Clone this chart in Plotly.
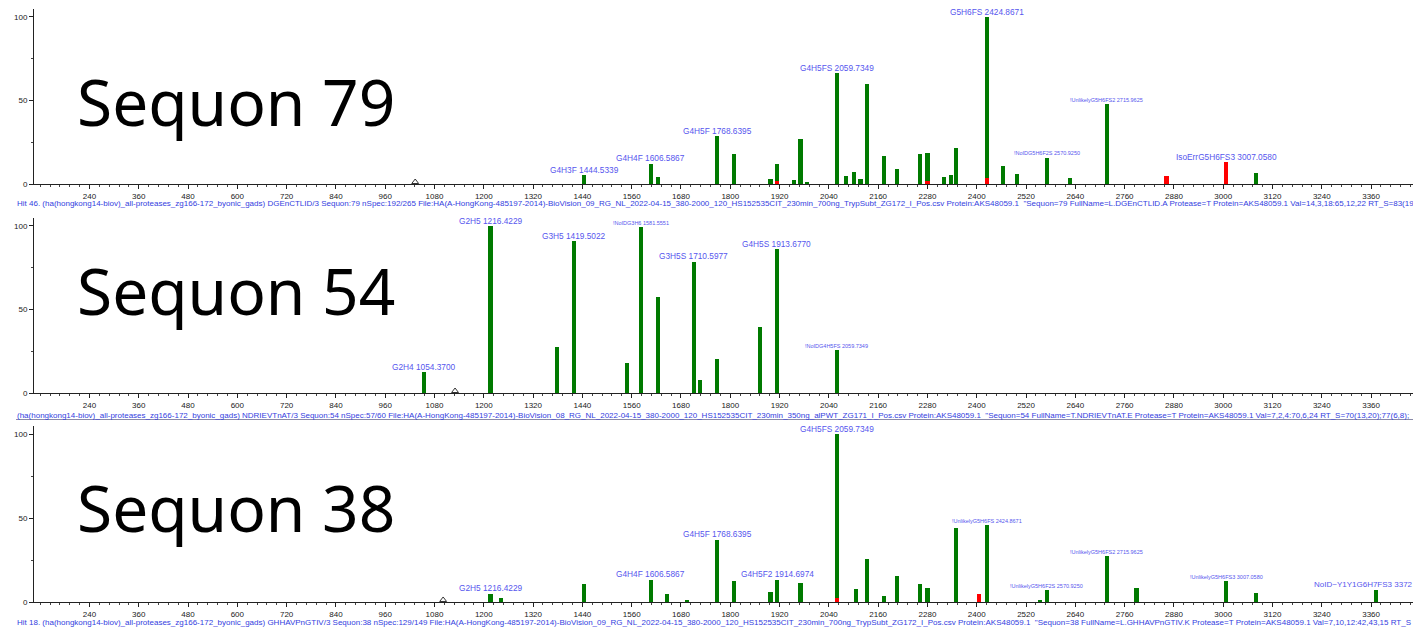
import plotly.graph_objects as go

W, H = 1413, 627

# ---------------- data ----------------
# Panel 1: Sequon 79
p1_mz = [1444.5, 1606.6, 1623, 1768.6, 1809, 1898, 1914, 1955, 1971, 1987,
         2059.7, 2081, 2101, 2117, 2133, 2174, 2205, 2261, 2280, 2320, 2337,
         2349, 2424.9, 2464, 2498, 2570.9, 2628, 2716, 2862, 3007.1, 3080]
p1_int = [5.4, 12.4, 4.4, 28.7, 18.4, 3.4, 12.4, 2.4, 27, 1.4,
          66.7, 5, 7.4, 3, 60.3, 16.8, 9, 18.4, 19, 4.4, 5.8,
          22, 100, 11.2, 6.2, 16, 4, 48, 5, 13.4, 6.8]
p1_red = [0, 0, 0, 0, 0, 0, 2.2, 0, 0, 0,
          0, 0, 0, 0, 0, 0, 0, 0, 2.2, 0, 0,
          0, 4, 0, 0, 0, 0, 0, 5, 13.4, 0]
p1_lab_mz = [1444.5339, 1606.5867, 1768.6395, 2059.7349, 2424.8671, 2570.9250, 2715.9625, 3007.0580]
p1_lab_text = ["G4H3F 1444.5339", "G4H4F 1606.5867", "G4H5F 1768.6395", "G4H5FS 2059.7349",
               "G5H6FS 2424.8671", "!NoIDG5H6F2S 2570.9250", "!UnlikelyG5H6FS2 2715.9625",
               "IsoErrG5H6FS3 3007.0580"]
p1_lab_small = [0, 0, 0, 0, 0, 1, 1, 0]
p1_prec = [1033]

# Panel 2: Sequon 54
p2_mz = [1054.4, 1216.4, 1378, 1419.5, 1548, 1581.6, 1623, 1710.6, 1727, 1768,
         1872, 1913.7, 2059.7]
p2_int = [12.8, 100, 27.7, 91, 18.4, 99.5, 57.7, 78.9, 8.2, 20.4,
          40, 86.4, 25.7]
p2_red = [0] * 13
p2_lab_mz = [1054.3700, 1216.4229, 1419.5022, 1581.5551, 1710.5977, 1913.6770, 2059.7349]
p2_lab_text = ["G2H4 1054.3700", "G2H5 1216.4229", "G3H5 1419.5022", "!NoIDG3H6 1581.5551",
               "G3H5S 1710.5977", "G4H5S 1913.6770", "!NoIDG4H5FS 2059.7349"]
p2_lab_small = [0, 0, 0, 1, 0, 0, 1]
p2_prec = [1130]

# Panel 3: Sequon 38
p3_mz = [1216.4, 1241, 1444.5, 1606.6, 1647, 1694, 1768.6, 1809, 1898, 1914.7,
         1971, 2059.7, 2105, 2133, 2174, 2205, 2261, 2280, 2349, 2406,
         2424.9, 2553, 2570.9, 2716, 2789, 3007.1, 3080, 3371]
p3_int = [5.2, 2.6, 11, 13.5, 4.8, 1.6, 37.3, 12.7, 6.2, 13.5,
          11.5, 100, 8, 26, 3.6, 16, 10.7, 8.5, 44, 5.2,
          45.8, 1.6, 7.1, 27.4, 8.5, 12.5, 5.5, 7.6]
p3_red = [0, 0, 0, 0, 0, 0, 0, 0, 0, 0,
          0, 2.5, 0, 0, 0, 0, 0, 0, 0, 5.2,
          0, 0, 0, 0, 0, 0, 0, 0]
p3_lab_mz = [1216.4229, 1606.5867, 1768.6395, 1914.6974, 2059.7349, 2424.8671, 2570.9250,
             2715.9625, 3007.0580]
p3_lab_text = ["G2H5 1216.4229", "G4H4F 1606.5867", "G4H5F 1768.6395", "G4H5F2 1914.6974",
               "G4H5FS 2059.7349", "!UnlikelyG5H6FS 2424.8671", "!UnlikelyG5H6F2S 2570.9250",
               "!UnlikelyG5H6FS2 2715.9625", "!UnlikelyG5H6FS3 3007.0580"]
p3_lab_small = [0, 0, 0, 0, 0, 1, 1, 1, 1]
p3_clip_mz = 3371
p3_clip_int = 7.6
p3_clip_text = "NoID~Y1Y1G6H7FS3 3372"
p3_prec = [1101]

x_tickvals = list(range(240, 3361, 120))
y_tickvals = [0, 50, 100]

sequon_titles = ["Sequon 79", "Sequon 54", "Sequon 38"]
info_lines = [
    'Hit 46. (ha(hongkong14-biov)_all-proteases_zg166-172_byonic_gads) DGEnCTLID/3 Sequon:79 nSpec:192/265 File:HA(A-HongKong-485197-2014)-BioVision_09_RG_NL_2022-04-15_380-2000_120_HS152535CIT_230min_700ng_TrypSubt_ZG172_I_Pos.csv Protein:AKS48059.1  "Sequon=79 FullName=L.DGEnCTLID.A Protease=T Protein=AKS48059.1 Val=14,3,18:65,12,22 RT_S=83(19',
    '(ha(hongkong14-biov)_all-proteases_zg166-172_byonic_gads) NDRIEVTnAT/3 Sequon:54 nSpec:57/60 File:HA(A-HongKong-485197-2014)-BioVision_08_RG_NL_2022-04-15_380-2000_120_HS152535CIT_230min_350ng_alPWT_ZG171_I_Pos.csv Protein:AKS48059.1  "Sequon=54 FullName=T.NDRIEVTnAT.E Protease=T Protein=AKS48059.1 Val=7,2,4:70,6,24 RT_S=70(13,20);77(6,8);',
    'Hit 18. (ha(hongkong14-biov)_all-proteases_zg166-172_byonic_gads) GHHAVPnGTIV/3 Sequon:38 nSpec:129/149 File:HA(A-HongKong-485197-2014)-BioVision_09_RG_NL_2022-04-15_380-2000_120_HS152535CIT_230min_700ng_TrypSubt_ZG172_I_Pos.csv Protein:AKS48059.1  "Sequon=38 FullName=L.GHHAVPnGTIV.K Protease=T Protein=AKS48059.1 Val=7,10,12:42,43,15 RT_S',
]

# ---------------- style / layout ----------------
GREEN = "#007a00"
RED = "#ff0000"
LABEL_BLUE = "#5656ee"
INFO_BLUE = "#3340e0"
FONT = "Liberation Sans, Arial, sans-serif"

X_RANGE = [105, 3462]
X_DOMAIN = [34 / W, 1.0]
Y_RANGE = [0, 105]
# pixel rows: (zero line, top of axis)
panel_px = [(184, 8.6), (393, 217.6), (602, 425.6)]
title_px = [101, 290, 507]
info_px = [204, 415, 622]

panels = [
    (p1_mz, p1_int, p1_red, p1_lab_mz, p1_lab_text, p1_lab_small, p1_prec),
    (p2_mz, p2_int, p2_red, p2_lab_mz, p2_lab_text, p2_lab_small, p2_prec),
    (p3_mz, p3_int, p3_red, p3_lab_mz, p3_lab_text, p3_lab_small, p3_prec),
]

fig = go.Figure()
annotations = []
layout = dict(
    width=W, height=H,
    margin=dict(l=0, r=0, t=0, b=0, pad=0, autoexpand=False),
    paper_bgcolor="white", plot_bgcolor="white",
    showlegend=False, barmode="overlay", bargap=0,
    font=dict(family=FONT, size=8, color="#222222"),
)

for i, (mz, inten, red, lmz, ltxt, lsmall, prec) in enumerate(panels):
    n = i + 1
    xa = "x" if n == 1 else f"x{n}"
    ya = "y" if n == 1 else f"y{n}"
    zero_px, top_px = panel_px[i]
    layout[f"xaxis{'' if n == 1 else n}"] = dict(
        domain=X_DOMAIN, range=X_RANGE, anchor=ya, automargin=False,
        tickvals=x_tickvals, ticks="outside", ticklen=4, tickcolor="#222222",
        showline=True, linecolor="#222222", linewidth=1, showgrid=False, zeroline=False,
        tickfont=dict(size=8, color="#222222", family=FONT),
        minor=dict(dtick=24, tick0=0, ticks="outside", ticklen=2, tickcolor="#444444", showgrid=False),
        fixedrange=True,
    )
    layout[f"yaxis{'' if n == 1 else n}"] = dict(
        domain=[1 - zero_px / H, 1 - top_px / H], range=Y_RANGE, anchor=xa, automargin=False,
        tickvals=y_tickvals, ticks="outside", ticklen=4, tickcolor="#222222",
        showline=True, linecolor="#222222", linewidth=1, showgrid=False, zeroline=False,
        tickfont=dict(size=8, color="#222222", family=FONT),
        minor=dict(tickvals=[25, 75], ticks="outside", ticklen=2, tickcolor="#444444", showgrid=False),
        fixedrange=True,
    )
    gx = [m for m, v, r in zip(mz, inten, red) if r < v]
    gy = [v for m, v, r in zip(mz, inten, red) if r < v]
    fig.add_trace(go.Bar(x=gx, y=gy, width=10, marker=dict(color=GREEN, line=dict(width=0)),
                         xaxis=xa, yaxis=ya, hoverinfo="x+y"))
    rx = [m for m, r in zip(mz, red) if r > 0]
    ry = [r for r in red if r > 0]
    if rx:
        fig.add_trace(go.Bar(x=rx, y=ry, width=10, marker=dict(color=RED, line=dict(width=0)),
                             xaxis=xa, yaxis=ya, hoverinfo="x+y"))
    fig.add_trace(go.Scatter(x=prec, y=[1.2] * len(prec), mode="markers",
                             marker=dict(symbol="triangle-up-open", size=6, color="#333333",
                                         line=dict(width=1)),
                             xaxis=xa, yaxis=ya, cliponaxis=False, hoverinfo="skip"))
    # peak labels
    for m, t, s in zip(lmz, ltxt, lsmall):
        h = max(v for mm, v in zip(mz, inten) if abs(mm - m) < 6)
        annotations.append(dict(
            x=m, y=h, xref=xa, yref=ya, text=t, showarrow=False,
            xanchor="center", yanchor="bottom", yshift=-2 if not s else -1,
            font=dict(size=5.5 if s else 8.3, color=LABEL_BLUE, family=FONT),
        ))
    # big sequon title
    annotations.append(dict(
        x=75 / W, y=1 - title_px[i] / H, xref="paper", yref="paper",
        text=sequon_titles[i], showarrow=False, xanchor="left", yanchor="middle",
        font=dict(size=64, color="black", family="Noto Sans, Open Sans, sans-serif"),
    ))
    # info line
    annotations.append(dict(
        x=15 / W, y=1 - info_px[i] / H, xref="paper", yref="paper",
        text=info_lines[i], showarrow=False, xanchor="left", yanchor="middle",
        font=dict(size=8.0, color=INFO_BLUE, family=FONT),
    ))

# label at right edge of panel 3 (cut at the border in the original)
annotations.append(dict(
    x=p3_clip_mz, y=p3_clip_int, xref="x3", yref="y3", text=p3_clip_text, showarrow=False,
    xanchor="left", yanchor="bottom", xshift=-64, yshift=-2,
    font=dict(size=8.0, color=LABEL_BLUE, family=FONT),
))

layout["annotations"] = annotations
layout["shapes"] = [dict(type="line", xref="paper", yref="paper",
                         x0=16 / W, x1=1, y0=1 - 419.5 / H, y1=1 - 419.5 / H,
                         line=dict(color="#8a8aa8", width=1))]
fig.update_layout(**layout)
fig.write_html(
    "out.html",
    config={"displayModeBar": False},
    post_script="document.body.style.margin='0';document.body.style.overflow='hidden';",
)
